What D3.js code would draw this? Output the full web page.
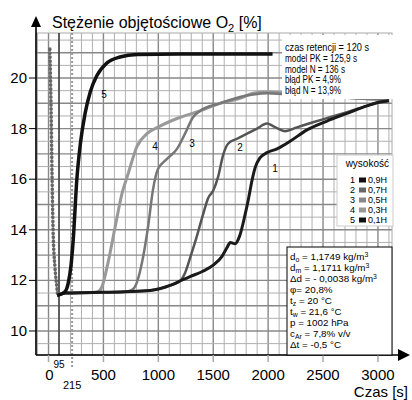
<!DOCTYPE html>
<html>
<head>
<meta charset="utf-8">
<script src="https://cdn.jsdelivr.net/npm/d3@7"></script>
<style>
  body { margin: 0; background: #fff; }
  svg { font-family: "Liberation Sans", Arial, sans-serif; }
</style>
</head>
<body>
<svg width="412" height="400"></svg>
<script>
// czas [s] / stezenie O2 [%]
var curve1 = [[80,11.4],[150,11.5],[400,11.52],[700,11.55],[925,11.6],[1107,11.8],[1200,11.98],[1289,12.15],[1400,12.35],[1500,12.6],[1580,12.95],[1626,13.3],[1655,13.5],[1700,13.45],[1740,13.75],[1790,14.6],[1820,15.2],[1853,15.95],[1881,16.45],[1927,16.85],[1990,17.05],[2081,17.2],[2200,17.5],[2354,17.95],[2536,18.3],[2718,18.6],[2900,18.9],[3019,19.05],[3100,19.1]];
var curve2 = [[80,11.4],[150,11.5],[400,11.52],[700,11.55],[925,11.6],[1107,11.8],[1200,11.98],[1244,12.3],[1290,12.9],[1334,13.5],[1407,14.6],[1453,15.25],[1500,15.55],[1545,16.1],[1590,16.95],[1635,17.4],[1717,17.6],[1808,17.8],[1899,18.0],[1990,18.2],[2045,18.1],[2090,18.0],[2154,17.9],[2263,18.05],[2409,18.25],[2564,18.45],[2718,18.65],[2900,18.9],[3019,19.05],[3100,19.1]];
var curve3 = [[80,11.4],[150,11.5],[400,11.52],[700,11.55],[750,11.6],[788,11.75],[851,12.7],[906,14.1],[952,15.6],[997,16.4],[1079,16.8],[1170,17.2],[1243,17.8],[1316,18.45],[1380,18.7],[1562,19.0],[1744,19.25],[1863,19.35],[1990,19.4],[2200,19.35],[2500,19.3],[2800,19.2],[3100,19.15]];
var curve4 = [[80,11.4],[150,11.5],[400,11.52],[450,11.55],[487,11.75],[542,12.7],[606,14.1],[670,15.45],[724,16.2],[806,17.3],[897,17.8],[1015,18.1],[1170,18.4],[1380,18.7],[1562,19.0],[1744,19.2],[1863,19.4],[1990,19.45],[2200,19.4],[2500,19.3],[2800,19.2],[3100,19.15]];
var curve5 = [[80,11.4],[150,11.55],[180,11.9],[205,12.6],[225,13.6],[258,16.0],[290,17.4],[333,18.6],[380,19.45],[441,20.1],[533,20.6],[651,20.83],[806,20.93],[1200,20.95],[1600,20.95],[2040,20.95]];
var inletDots = [[12,21.15],[23,18.85],[32,16.2],[41,14.1],[59,12.5],[77,11.7],[82,11.45]];

var curveNames = ["1", "2", "3", "4", "5"];
var curveColors = ["#1a1a1a", "#555", "#777", "#999", "#111"];
var curveWidths = [3, 2.5, 2.5, 3, 3.5];
var curveLabelPos = [[2063,16.44],[1744,17.27],[1307,17.43],[970,17.3],[505,19.35]];

var legendTitle = "wysokość";
var legendLabels = ["0,9H", "0,7H", "0,5H", "0,3H", "0,1H"];
var legendSwatch = ["#111", "#666", "#888", "#999", "#111"];

var xTicks = [0, 500, 1000, 1500, 2000, 2500, 3000];
var yTicks = [10, 12, 14, 16, 18, 20];
var markLines = [95, 215];

var topNotes = ["czas retencji = 120 s", "model PK = 125,9 s", "model N = 136 s", "błąd PK = 4,9%", "błąd N = 13,9%"];
var bottomNotes = ["d_{o} = 1,1749 kg/m^{3}", "d_{m} = 1,1711 kg/m^{3}", "Δd = - 0,0038 kg/m^{3}", "φ= 20,8%", "t_{z} = 20 °C", "t_{w} = 21,6 °C", "p = 1002 hPa", "c_{Ar} = 7,8% v/v", "Δt = -0,5 °C"];

var svg = d3.select("svg");
var plotL = 36, plotR = 392, plotT = 33, plotB = 355;

var xs = d3.scaleLinear().domain([-114, 3128]).range([plotL, plotR]);
var ys = d3.scaleLinear().domain([9.05, 21.78]).range([plotB, plotT]);

// graph paper
var grid = svg.append("g");
d3.range(-100, 3101, 100).forEach(function(t) {
    var major = t % 500 == 0;
    grid.append("line")
        .attr("x1", xs(t)).attr("x2", xs(t))
        .attr("y1", plotT).attr("y2", plotB)
        .attr("stroke", major ? "#888" : "#b0b0b0")
        .attr("stroke-width", major ? 1.4 : 1);
});
d3.range(9.5, 21.6, 0.5).forEach(function(v) {
    var major = Math.abs(v - Math.round(v)) < 0.01;
    grid.append("line")
        .attr("x1", plotL).attr("x2", plotR)
        .attr("y1", ys(v)).attr("y2", ys(v))
        .attr("stroke", major ? "#888" : "#b0b0b0")
        .attr("stroke-width", major ? 1.4 : 1);
});
grid.append("rect")
    .attr("x", plotL).attr("y", plotT)
    .attr("width", plotR - plotL).attr("height", plotB - plotT)
    .attr("fill", "none").attr("stroke", "#aaa");

// 95 s and 215 s markers
svg.append("line")
    .attr("x1", xs(markLines[0])).attr("x2", xs(markLines[0]))
    .attr("y1", plotT).attr("y2", plotB)
    .attr("stroke", "#444").attr("stroke-width", 1.6);
svg.append("line")
    .attr("x1", xs(markLines[1])).attr("x2", xs(markLines[1]))
    .attr("y1", plotT).attr("y2", plotB + 12)
    .attr("stroke", "#999").attr("stroke-width", 2)
    .attr("stroke-dasharray", "2,2");

var line = d3.line()
    .x(function(d) { return xs(d[0]); })
    .y(function(d) { return ys(d[1]); })
    .curve(d3.curveMonotoneX);

svg.append("path")
    .attr("d", line(inletDots))
    .attr("fill", "none")
    .attr("stroke", "#666")
    .attr("stroke-width", 3.5)
    .attr("stroke-linecap", "round")
    .attr("stroke-dasharray", "0.5,3.5");

var curves = [curve1, curve2, curve3, curve4, curve5];
[3, 2, 1, 0, 4].forEach(function(i) {
    svg.append("path")
        .attr("d", line(curves[i]))
        .attr("fill", "none")
        .attr("stroke", curveColors[i])
        .attr("stroke-width", curveWidths[i])
        .attr("stroke-linejoin", "round");
});

svg.selectAll(".clab")
    .data(curveNames)
    .enter()
    .append("text")
    .attr("x", function(d, i) { return xs(curveLabelPos[i][0]); })
    .attr("y", function(d, i) { return ys(curveLabelPos[i][1]) + 4; })
    .attr("text-anchor", "middle")
    .attr("font-size", 10)
    .text(function(d) { return d; });

// axes
svg.append("line")
    .attr("x1", plotL).attr("x2", plotL)
    .attr("y1", plotB).attr("y2", 24)
    .attr("stroke", "#000").attr("stroke-width", 1.6);
svg.append("path").attr("d", "M36,16 L31,27 L41,27 Z").attr("fill", "#000");
svg.append("line")
    .attr("x1", plotL).attr("x2", 400)
    .attr("y1", plotB).attr("y2", plotB)
    .attr("stroke", "#000").attr("stroke-width", 1.6);
svg.append("path").attr("d", "M410,355 L398,349 L398,361 Z").attr("fill", "#000");

svg.selectAll(".ytick")
    .data(yTicks)
    .enter()
    .append("line")
    .attr("x1", 29).attr("x2", plotL)
    .attr("y1", function(d) { return ys(d); })
    .attr("y2", function(d) { return ys(d); })
    .attr("stroke", "#000");
svg.selectAll(".ylab")
    .data(yTicks)
    .enter()
    .append("text")
    .attr("x", 27)
    .attr("y", function(d) { return ys(d) + 5; })
    .attr("text-anchor", "end")
    .attr("font-size", 15)
    .text(function(d) { return d; });

svg.selectAll(".xtick")
    .data(xTicks)
    .enter()
    .append("line")
    .attr("x1", function(d) { return xs(d); })
    .attr("x2", function(d) { return xs(d); })
    .attr("y1", plotB).attr("y2", plotB + 7)
    .attr("stroke", "#aaa").attr("stroke-width", 1.5);
svg.selectAll(".xlab")
    .data(xTicks)
    .enter()
    .append("text")
    .attr("x", function(d) { return xs(d) + (d == 0 ? 1 : 0); })
    .attr("y", 380)
    .attr("text-anchor", "middle")
    .attr("font-size", 15)
    .text(function(d) { return d; });
svg.append("text").attr("x", xs(markLines[0])).attr("y", 368)
    .attr("text-anchor", "middle").attr("font-size", 10).text(markLines[0]);
svg.append("text").attr("x", xs(markLines[1])).attr("y", 389)
    .attr("text-anchor", "middle").attr("font-size", 11).text(markLines[1]);

svg.append("text").attr("x", 408).attr("y", 397)
    .attr("text-anchor", "end").attr("font-size", 15).text("Czas [s]");

var title = svg.append("text").attr("x", 52).attr("y", 28).attr("font-size", 16);
title.append("tspan").text("Stężenie objętościowe O");
title.append("tspan").attr("font-size", 11).attr("dy", 4).text("2");
title.append("tspan").attr("dy", -4).text(" [%]");

// rich text helper: _{sub} and ^{sup}
function richText(sel, str, size) {
    var parts = str.split(/([_^]\{[^}]*\})/);
    var shift = 0;
    parts.forEach(function(p) {
        if (p == "") return;
        var m = p.match(/^([_^])\{([^}]*)\}$/);
        if (m) {
            var dy = m[1] == "_" ? 2 : -3;
            sel.append("tspan").attr("font-size", size * 0.7).attr("dy", dy - shift).text(m[2]);
            shift = dy;
        } else {
            sel.append("tspan").attr("dy", -shift).text(p);
            shift = 0;
        }
    });
}

// notes at the top right
svg.append("rect").attr("x", 282).attr("y", 35).attr("width", 112).attr("height", 64).attr("fill", "#fff");
svg.selectAll(".tnote")
    .data(topNotes)
    .enter()
    .append("text")
    .attr("x", 285)
    .attr("y", function(d, i) { return 51 + i * 10.8; })
    .attr("font-size", 10.5)
    .attr("font-family", "'Liberation Sans Narrow', 'Liberation Sans', Arial, sans-serif")
    .attr("textLength", function(d) { return d.length * 4.0; })
    .attr("lengthAdjust", "spacingAndGlyphs")
    .text(function(d) { return d; });

// legend
svg.append("rect").attr("x", 337).attr("y", 155).attr("width", 56).attr("height", 71)
    .attr("fill", "#fff").attr("stroke", "#ccc");
svg.append("text").attr("x", 389).attr("y", 167).attr("text-anchor", "end")
    .attr("font-size", 10).text(legendTitle);
var lg = svg.selectAll(".lg").data(legendLabels).enter().append("g")
    .attr("transform", function(d, i) { return "translate(0," + (180 + i * 10) + ")"; });
lg.append("text").attr("x", 355).attr("y", 3.3).attr("text-anchor", "end").attr("font-size", 9)
    .text(function(d, i) { return curveNames[i]; });
lg.append("rect").attr("x", 359).attr("y", -2.5).attr("width", 7).attr("height", 5)
    .attr("fill", function(d, i) { return legendSwatch[i]; });
lg.append("text").attr("x", 368).attr("y", 3.3).attr("font-size", 9)
    .text(function(d) { return d; });

// measurement box
svg.append("rect").attr("x", 287).attr("y", 247).attr("width", 105).attr("height", 108)
    .attr("fill", "#fff").attr("stroke", "#000");
bottomNotes.forEach(function(s, i) {
    var t = svg.append("text").attr("x", 290).attr("y", 260 + i * 11).attr("font-size", 9.8);
    richText(t, s, 9.8);
});
</script>
</body>
</html>
